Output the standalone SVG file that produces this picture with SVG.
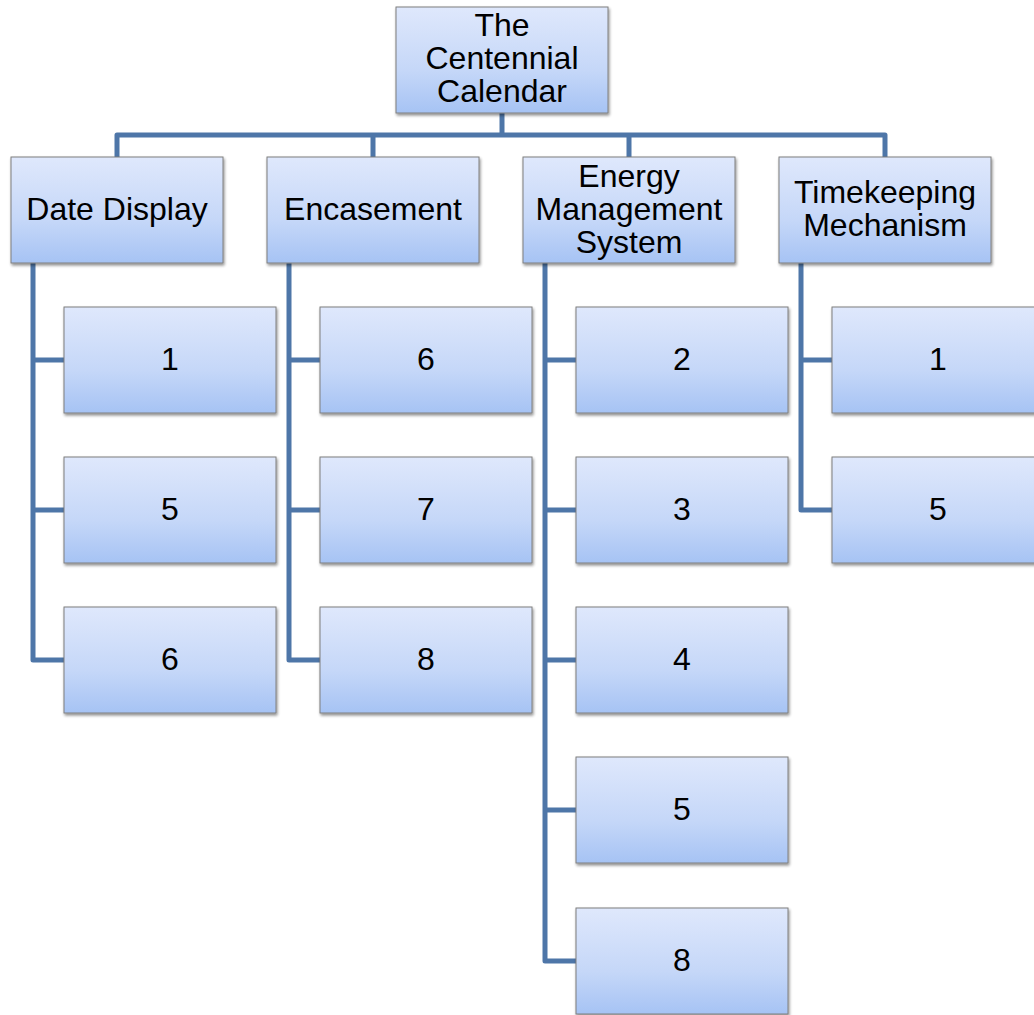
<svg xmlns="http://www.w3.org/2000/svg" width="1034" height="1015" viewBox="0 0 1034 1015">
<defs>
<linearGradient id="g" x1="0" y1="0" x2="0" y2="1">
<stop offset="0" stop-color="#dfe8fc"/>
<stop offset="0.6" stop-color="#c5d7f8"/>
<stop offset="1" stop-color="#a6c3f4"/>
</linearGradient>
<filter id="sh" x="-10%" y="-10%" width="125%" height="130%">
<feGaussianBlur in="SourceAlpha" stdDeviation="1.5"/>
<feOffset dx="1" dy="2"/>
<feComponentTransfer><feFuncA type="linear" slope="0.45"/></feComponentTransfer>
<feMerge><feMergeNode/><feMergeNode in="SourceGraphic"/></feMerge>
</filter>
</defs>
<style>
.box{fill:url(#g);stroke:#7f7f7f;stroke-width:1;filter:url(#sh)}
.t{font-family:"Liberation Sans",Arial,sans-serif;font-size:32px;fill:#000;text-anchor:middle}
.c{fill:none;stroke:#4e76a8;stroke-width:5;stroke-linejoin:round}
</style>
<rect width="1034" height="1015" fill="#fff"/>
<g id="connectors">
<path class="c" d="M502 113V135M117 157V135H885V157M373 135V157M629 135V157"/>
<path class="c" d="M33 263V660H64M33 360H64M33 510H64"/>
<path class="c" d="M289 263V660H320M289 360H320M289 510H320"/>
<path class="c" d="M545 263V961H576M545 360H576M545 510H576M545 660H576M545 810H576"/>
<path class="c" d="M801 263V510H832M801 360H832"/>
</g>
<g id="root"><rect class="box" x="396" y="7" width="212" height="106"/><text class="t" x="502" y="36">The</text><text class="t" x="502" y="69">Centennial</text><text class="t" x="502" y="102">Calendar</text></g>
<g id="date-display"><rect class="box" x="11" y="157" width="212" height="106"/><text class="t" x="117" y="220">Date Display</text></g>
<g id="encasement"><rect class="box" x="267" y="157" width="212" height="106"/><text class="t" x="373" y="220">Encasement</text></g>
<g id="energy"><rect class="box" x="523" y="157" width="212" height="106"/><text class="t" x="629" y="187">Energy</text><text class="t" x="629" y="220">Management</text><text class="t" x="629" y="253">System</text></g>
<g id="timekeeping"><rect class="box" x="779" y="157" width="212" height="106"/><text class="t" x="885" y="203">Timekeeping</text><text class="t" x="885" y="236">Mechanism</text></g>
<g id="dd-1"><rect class="box" x="64" y="307" width="212" height="106"/><text class="t" x="170" y="370">1</text></g>
<g id="dd-5"><rect class="box" x="64" y="457" width="212" height="106"/><text class="t" x="170" y="520">5</text></g>
<g id="dd-6"><rect class="box" x="64" y="607" width="212" height="106"/><text class="t" x="170" y="670">6</text></g>
<g id="en-6"><rect class="box" x="320" y="307" width="212" height="106"/><text class="t" x="426" y="370">6</text></g>
<g id="en-7"><rect class="box" x="320" y="457" width="212" height="106"/><text class="t" x="426" y="520">7</text></g>
<g id="en-8"><rect class="box" x="320" y="607" width="212" height="106"/><text class="t" x="426" y="670">8</text></g>
<g id="em-2"><rect class="box" x="576" y="307" width="212" height="106"/><text class="t" x="682" y="370">2</text></g>
<g id="em-3"><rect class="box" x="576" y="457" width="212" height="106"/><text class="t" x="682" y="520">3</text></g>
<g id="em-4"><rect class="box" x="576" y="607" width="212" height="106"/><text class="t" x="682" y="670">4</text></g>
<g id="em-5"><rect class="box" x="576" y="757" width="212" height="106"/><text class="t" x="682" y="820">5</text></g>
<g id="em-8"><rect class="box" x="576" y="908" width="212" height="106"/><text class="t" x="682" y="971">8</text></g>
<g id="tm-1"><rect class="box" x="832" y="307" width="212" height="106"/><text class="t" x="938" y="370">1</text></g>
<g id="tm-5"><rect class="box" x="832" y="457" width="212" height="106"/><text class="t" x="938" y="520">5</text></g>
</svg>
